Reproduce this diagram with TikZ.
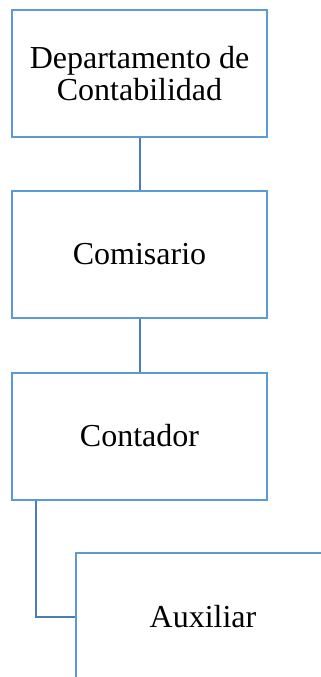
\documentclass[tikz,border=0pt]{standalone}
\usepackage{fontspec}
\setmainfont{Liberation Serif}
\definecolor{boxblue}{HTML}{5B9BD5}
\definecolor{linkblue}{HTML}{4A7EBB}
\begin{document}
\begin{tikzpicture}[x=1pt,y=-1pt,
  orgbox/.style={draw=boxblue, line width=2pt, fill=white, minimum width=255pt, minimum height=127pt, inner sep=0pt, align=center, font=\fontsize{32}{32.5}\selectfont},
  link/.style={draw=linkblue, line width=2pt}]
\useasboundingbox (0,0) rectangle (321,677);
\clip (0,0) rectangle (321,677);
\node[orgbox] (b1) at (139.5,73.5) {Departamento de\\Contabilidad};
\node[orgbox] (b2) at (139.5,254.5) {Comisario};
\node[orgbox] (b3) at (139.5,436) {Contador};
\node[orgbox] (b4) at (203,616.5) {Auxiliar};
\draw[link] (b1.south) -- (b2.north);
\draw[link] (b2.south) -- (b3.north);
\draw[link] ([xshift=25pt]b3.south west) |- (b4.west);
\end{tikzpicture}
\end{document}
